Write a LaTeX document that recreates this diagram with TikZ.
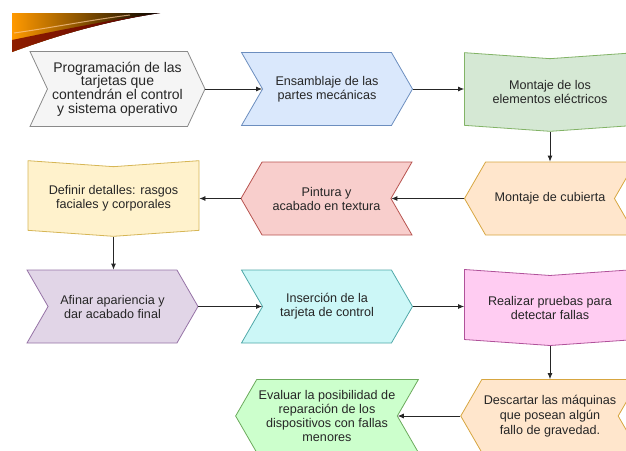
\documentclass[tikz,border=0pt]{standalone}
\usepackage{fontspec}
\setmainfont{Liberation Sans}
\usetikzlibrary{shapes.symbols,arrows.meta}

\definecolor{grayfill}{HTML}{F5F5F5}\definecolor{grayline}{HTML}{8A8A8A}
\definecolor{bluefill}{HTML}{DAE8FC}\definecolor{blueline}{HTML}{6C8EBF}
\definecolor{greenfill}{HTML}{D5E8D4}\definecolor{greenline}{HTML}{82B366}
\definecolor{orangefill}{HTML}{FFE6CC}\definecolor{orangeline}{HTML}{D7A640}
\definecolor{yellowfill}{HTML}{FFF2CC}\definecolor{yellowline}{HTML}{D6B656}
\definecolor{redfill}{HTML}{F8CECC}\definecolor{redline}{HTML}{B85450}
\definecolor{purplefill}{HTML}{E1D5E7}\definecolor{purpleline}{HTML}{9673A6}
\definecolor{cyanfill}{HTML}{CCF7F7}\definecolor{cyanline}{HTML}{4FA8A8}
\definecolor{pinkfill}{HTML}{FFCCF2}\definecolor{pinkline}{HTML}{B0529A}
\definecolor{limefill}{HTML}{CCFFCC}\definecolor{limeline}{HTML}{6BAA5C}

\begin{document}
\begin{tikzpicture}[x=1pt,y=-1pt,
box/.style={signal, draw, line width=0.8pt, minimum width=171pt, minimum height=73pt, inner sep=2pt, align=center, text=black!85, font=\fontsize{12.6}{14}\selectfont},
stepright/.style={box, signal to=east, signal from=west, signal pointer angle=120},
stepleft/.style={box, signal to=west, signal from=east, signal pointer angle=120},
stepdown/.style={box, signal to=south, signal from=north, signal pointer angle=172},
link/.style={-{Latex[length=6pt,width=5pt]}, line width=0.8pt, black!85}
]
\clip (0,0) rectangle (626,450);

% swoosh in the corner
\fill[left color=orange!80!yellow, right color=black] (12,13) -- (160,13) .. controls (100,22) and (50,38) .. (12,52) -- cycle;
\fill[red!45!black, opacity=0.8] (12,40) .. controls (60,30) and (110,20) .. (160,13) .. controls (100,22) and (50,38) .. (12,52) -- cycle;
\draw[orange!40!white, line width=1pt, opacity=0.7] (14,33) .. controls (50,28) and (90,20) .. (130,15);

\node[stepright, fill=grayfill, draw=grayline, minimum width=175pt, minimum height=75pt, inner xsep=0pt, signal pointer angle=130, font=\fontsize{14}{13.8}\selectfont](prog) at (117.5,89){Programación de las\\tarjetas que\\contendrán el control\\y sistema operativo};
\node[stepright, fill=bluefill, draw=blueline](ensam) at (327,89){Ensamblaje de las\\partes mecánicas};
\node[stepdown, fill=greenfill, draw=greenline, minimum height=75pt](elec) at (550,92){Montaje de los\\elementos eléctricos};

\node[stepdown, fill=yellowfill, draw=yellowline](detal) at (113.5,198.5){Definir detalles: rasgos\\faciales y corporales};
\node[stepleft, fill=redfill, draw=redline](pint) at (326.5,198.5){Pintura y\\acabado en textura};
\node[stepleft, fill=orangefill, draw=orangeline](cubi) at (550,198.5){Montaje de cubierta};

\node[stepright, fill=purplefill, draw=purpleline](afin) at (112.5,306.5){Afinar apariencia y\\dar acabado final};
\node[stepright, fill=cyanfill, draw=cyanline](inser) at (327,306.5){Inserción de la\\tarjeta de control};
\node[stepdown, fill=pinkfill, draw=pinkline](prueb) at (550,307.5){Realizar pruebas para\\detectar fallas};

\node[stepleft, fill=limefill, draw=limeline](eval) at (327,416){Evaluar la posibilidad de\\reparación de los\\dispositivos con fallas\\menores};
\node[stepleft, fill=orangefill, draw=orangeline, font=\fontsize{12.6}{15}\selectfont](desc) at (550,416){Descartar las máquinas\\que posean algún\\fallo de gravedad.};

\draw[link] (prog.east) -- (ensam.west);
\draw[link] (ensam.east) -- (ensam.east -| elec.west);
\draw[link] (elec.south) -- (elec.south |- cubi.north);
\draw[link] (cubi.west) -- (pint.east);
\draw[link] (pint.west) -- (detal.east);
\draw[link] (detal.south) -- (detal.south |- afin.north);
\draw[link] (afin.east) -- (inser.west);
\draw[link] (inser.east) -- (inser.east -| prueb.west);
\draw[link] (prueb.south) -- (prueb.south |- desc.north);
\draw[link] (desc.west) -- (eval.east);
\end{tikzpicture}
\end{document}
